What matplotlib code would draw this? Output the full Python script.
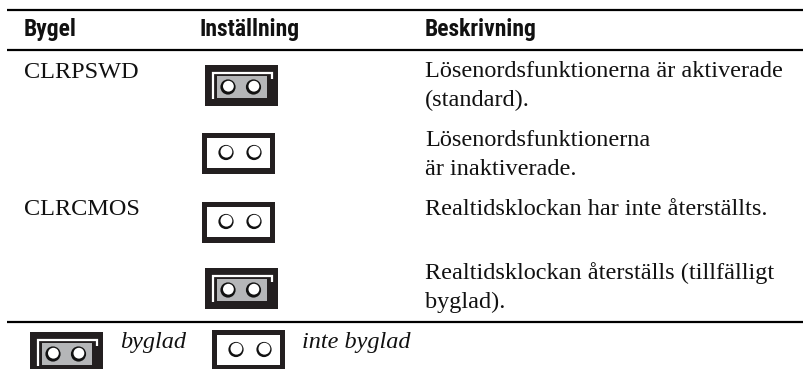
#!/usr/bin/env python
# Jumper settings table, drawn in pixel coordinates
import matplotlib
matplotlib.use('Agg')
import matplotlib.pyplot as plt
from matplotlib.patches import Rectangle, Circle

# Table content
headers = ['Bygel', 'Inställning', 'Beskrivning']
jumpers = ['CLRPSWD', 'CLRCMOS']
descriptions = ['Lösenordsfunktionerna är aktiverade\n(standard).',
                'Lösenordsfunktionerna\när inaktiverade.',
                'Realtidsklockan har inte återställts.',
                'Realtidsklockan återställs (tillfälligt\nbyglad).']
settings = ['closed', 'open', 'open', 'closed']
legend_labels = ['byglad', 'inte byglad']
legend_kinds = ['closed', 'open']

SANS = 'Roboto Condensed'
SERIF = 'Liberation Serif'
BODY = 17.5

fig = plt.figure(figsize=(8.04, 3.69), dpi=100)
ax = fig.add_axes([0, 0, 1, 1])
ax.set_xlim(0, 804)
ax.set_ylim(369, 0)
ax.axis('off')


def jumper(x, y, kind):
    # x, y = top left corner of the outer block
    ax.add_patch(Rectangle((x, y), 73, 40.5, fc='#231f20', ec='none'))
    if kind == 'closed':
        # white L shaped highlight
        ax.plot([x + 8.5, x + 8.5, x + 67, x + 67],
                [y + 34, y + 8, y + 8, y + 14], color='white', lw=1.6,
                solid_joinstyle='miter', solid_capstyle='butt')
        ax.add_patch(Rectangle((x + 12, y + 11), 50, 22, fc='#b5b6b8', ec='none'))
        centers = [x + 23, x + 48.5]
        cy = y + 22
        inner = 5.4
    else:
        ax.add_patch(Rectangle((x + 5, y + 5), 63, 30, fc='white', ec='none'))
        centers = [x + 24, x + 52]
        cy = y + 19.5
        inner = 5.9
    for cx in centers:
        ax.add_patch(Circle((cx, cy), 7.6, fc='#111111', ec='none'))
        ax.add_patch(Circle((cx + 0.4, cy - 0.8), inner, fc='white', ec='none'))


# Rules
for y in [10, 49.5, 322]:
    ax.plot([7, 804], [y, y], color='black', lw=1.6, solid_capstyle='butt')

# Header row
for x, h in zip([24, 200, 425], headers):
    ax.text(x, 36, h, family=SANS, weight='bold', fontsize=17,
            color='#111111', va='baseline')

# Body
for y, name in zip([78, 215], jumpers):
    ax.text(24, y, name, family=SERIF, fontsize=BODY, color='#111111', va='baseline')

jx = {'closed': 205, 'open': 202}
for y, kind in zip([65, 133, 202, 268], settings):
    jumper(jx[kind], y, kind)

for y, d in zip([77, 146, 215, 279], descriptions):
    lines = d.split('\n')
    for i, line in enumerate(lines):
        ax.text(425, y + i * 29, line, family=SERIF, fontsize=BODY, color='#111111',
                va='baseline')

# Legend row (clipped by the image bottom)
for x, y, kind in zip([30, 212], [332, 330], legend_kinds):
    jumper(x, y, kind)
for x, lab in zip([120, 302], legend_labels):
    ax.text(x, 348, lab, family=SERIF, style='italic', fontsize=BODY,
            color='#111111', va='baseline')

fig.savefig('out.png', dpi=100)
